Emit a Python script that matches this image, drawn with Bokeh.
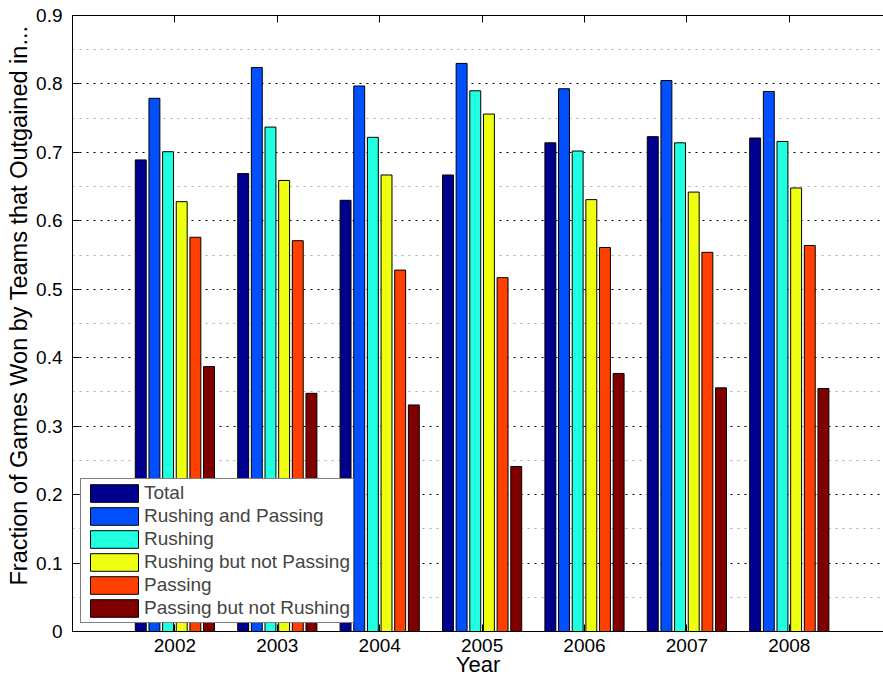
import numpy as np
from bokeh.plotting import figure
from bokeh.models import (ColumnDataSource, FixedTicker, LinearAxis, Title,
                          Legend, LegendItem, Range1d, CustomLabelingPolicy)
from bokeh.embed import file_html
from bokeh.resources import INLINE

# Fraction of games won by teams that outgained their opponent, by season
years = ["2002", "2003", "2004", "2005", "2006", "2007", "2008"]
series_names = ["Total", "Rushing and Passing", "Rushing",
                "Rushing but not Passing", "Passing", "Passing but not Rushing"]
total = [0.689, 0.669, 0.630, 0.667, 0.714, 0.723, 0.721]
rush_and_pass = [0.779, 0.824, 0.797, 0.830, 0.793, 0.805, 0.789]
rushing = [0.701, 0.737, 0.722, 0.790, 0.702, 0.714, 0.716]
rush_not_pass = [0.628, 0.659, 0.667, 0.756, 0.631, 0.642, 0.648]
passing = [0.576, 0.571, 0.528, 0.517, 0.561, 0.554, 0.564]
pass_not_rush = [0.387, 0.348, 0.331, 0.241, 0.377, 0.356, 0.355]
series_values = [total, rush_and_pass, rushing, rush_not_pass, passing, pass_not_rush]

y_ticks = [0, 0.1, 0.2, 0.3, 0.4, 0.5, 0.6, 0.7, 0.8, 0.9]
y_tick_labels = ["0", "0.1", "0.2", "0.3", "0.4", "0.5", "0.6", "0.7", "0.8", "0.9"]

# jet-style colours, one per series
colors = ["#00008F", "#0050FF", "#20FFDF", "#EFFF10", "#FF4000", "#800000"]

FONT = "Liberation Sans"

group_pos = np.arange(1, len(years) + 1)
n_series = len(series_names)
slot = 0.8 / n_series          # horizontal slot per bar inside a group
bar_w = slot * 0.8             # bar width inside its slot

p = figure(width=883, height=679,
           x_range=Range1d(0, 7.92), y_range=Range1d(0, 0.9),
           output_backend="svg", toolbar_location=None,
           min_border_left=72, min_border_right=0,
           min_border_top=15, min_border_bottom=48)
p.background_fill_color = "white"
p.border_fill_color = "white"
p.outline_line_color = None

renderers = []
for i, (name, vals, col) in enumerate(zip(series_names, series_values, colors)):
    offset = (i - (n_series - 1) / 2) * slot
    src = ColumnDataSource(dict(x=group_pos + offset, top=vals))
    r = p.vbar(x="x", top="top", bottom=0, width=bar_w, source=src,
               fill_color=col, line_color="black", line_width=1)
    renderers.append(r)

# x axis: one tick per season
x_ticker = FixedTicker(ticks=list(group_pos))
p.xaxis.ticker = x_ticker
p.xaxis.major_label_overrides = {int(g): y for g, y in zip(group_pos, years)}

# y axis with 0.05 minor grid
minor = [round((a + b) / 2, 3) for a, b in zip(y_ticks[:-1], y_ticks[1:])]
y_ticker = FixedTicker(ticks=y_ticks, minor_ticks=minor)
p.yaxis.ticker = y_ticker
p.yaxis.major_label_overrides = {t: l for t, l in zip(y_ticks, y_tick_labels)}

for ax in (p.xaxis[0], p.yaxis[0]):
    ax.axis_line_color = "black"
    ax.axis_line_width = 1
    ax.major_tick_in = 7
    ax.major_tick_out = 0
    ax.major_tick_line_color = "black"
    ax.minor_tick_line_color = None
    ax.major_label_text_font = FONT
    ax.major_label_text_font_size = "19px"
    ax.major_label_text_color = "black"
p.xaxis.major_label_standoff = 7
p.yaxis.major_label_standoff = 6

p.xaxis.axis_label = "Year"
p.xaxis.axis_label_text_font = FONT
p.xaxis.axis_label_text_font_size = "22px"
p.xaxis.axis_label_text_font_style = "normal"
p.xaxis.axis_label_text_color = "black"
p.xaxis.axis_label_standoff = -3

# mirrored ticks along the top edge, without labels
hide_all = CustomLabelingPolicy(code="""
    const keep = [...indices]
    for (const i of keep) indices.unset(i)
    return indices
""")
top_axis = LinearAxis(ticker=x_ticker, major_label_text_font_size="1px",
                      major_label_standoff=0, major_label_policy=hide_all,
                      major_tick_in=7, major_tick_out=0,
                      minor_tick_line_color=None, axis_line_color="black")
p.add_layout(top_axis, "above")

p.xgrid.visible = False
p.ygrid.grid_line_color = "black"
p.ygrid.grid_line_dash = "2 5"
p.ygrid.grid_line_width = 1
p.ygrid.minor_grid_line_color = "#aaaaaa"
p.ygrid.minor_grid_line_dash = "2 5"
p.ygrid.minor_grid_line_width = 1

legend = Legend(items=[LegendItem(label=n, renderers=[r])
                       for n, r in zip(series_names, renderers)],
                location="bottom_left", margin=8, padding=3, spacing=1,
                glyph_width=60, glyph_height=22, label_standoff=0,
                label_text_font=FONT, label_text_font_size="19px",
                border_line_color="black", border_line_width=1,
                background_fill_color="white", background_fill_alpha=1)
p.add_layout(legend)

# y label, anchored toward the bottom of the axis
p.add_layout(Title(text="Fraction of Games Won by Teams that Outgained in...",
                   align="left", offset=46, text_font=FONT,
                   text_font_size="23.5px", text_font_style="normal",
                   text_color="black", standoff=4), "left")

open("out.html", "w").write(file_html(p, INLINE))
